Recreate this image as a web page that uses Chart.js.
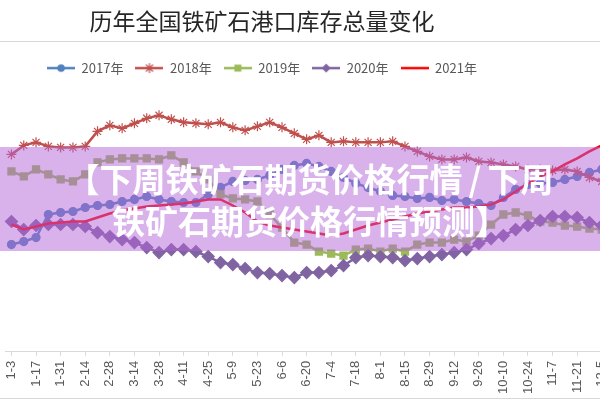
<!DOCTYPE html>
<html>
<head>
<meta charset="utf-8">
<script src="https://cdn.jsdelivr.net/npm/chart.js@4.4.0/dist/chart.umd.min.js"></script>
<style>
  html, body { margin: 0; padding: 0; background: #fff; }
  body { width: 600px; height: 400px; overflow: hidden; position: relative; }
  #wrap { position: absolute; left: -128px; top: 0; width: 780px; height: 400px; }
  #banner {
    position: absolute; left: 0; top: 147px; width: 600px; height: 104px;
    background: rgba(180, 100, 215, 0.5); box-sizing: border-box;
    padding: 10px 0 0 20px; text-align: center; color: #fff; white-space: nowrap;
    font: bold 33px/42px "Noto Sans CJK SC", sans-serif;
  }
  #banner .sl { margin: 0 6px; }
</style>
</head>
<body>
<div id="wrap"><canvas id="chart" width="780" height="400"></canvas></div>
<div id="banner">【下周铁矿石期货价格行情<span class="sl">/</span>下周<br>铁矿石期货价格行情预测】</div>
<script>
// weekly port inventory, 万吨
const weeks = ['1-3','1-10','1-17','1-24','1-31','2-7','2-14','2-21','2-28','3-7','3-14','3-21','3-28',
  '4-4','4-11','4-18','4-25','5-2','5-9','5-16','5-23','5-30','6-6','6-13','6-20','6-27','7-4','7-11',
  '7-18','7-25','8-1','8-8','8-15','8-22','8-29','9-5','9-12','9-19','9-26','10-3','10-10','10-17',
  '10-24','10-31','11-7','11-14','11-21','11-28','12-5','12-12','12-19','12-26'];

const inv2017 = [11210,11300,11420,12110,12170,12200,12320,12380,12410,12500,12560,12650,12560,
  12500,12470,12470,12710,12920,13100,13130,13160,13280,13460,13580,13640,13550,13400,13220,
  13040,12920,12800,12680,12650,12590,12620,12530,12560,12500,12440,12380,12620,12860,
  13010,13040,13070,13160,13250,13370,13460,13520,13550,13610];
const inv2018 = [13910,14180,14270,14150,14120,14120,14150,14600,14780,14690,14840,14990,15080,
  14960,14870,14840,14810,14870,14720,14630,14750,14870,14720,14540,14360,14480,14270,14300,
  14270,14270,14270,14300,14150,14000,13850,13760,13760,13820,13700,13670,13610,13550,
  13460,13460,13430,13460,13400,13220,13100,13010,12980,13040];
const inv2019 = [13400,13250,13460,13310,13160,13100,13310,13670,13760,13790,13790,13790,13760,
  13880,13670,13400,13160,12710,12590,12560,12500,12110,11720,11270,11210,11000,10940,10880,
  11060,11090,11000,11090,11000,11210,11270,11270,11360,11300,11480,11810,12110,12170,
  12080,11900,11870,11780,11750,11690,11660,11600,11570,11540];
const inv2020 = [11900,11660,11780,11810,11810,11810,11750,11570,11450,11360,11270,11120,10970,
  11060,11060,11000,10850,10670,10610,10490,10370,10340,10280,10220,10370,10370,10430,10580,
  10820,10880,10850,10820,10730,10790,10850,10910,10970,11060,11240,11390,11480,11660,
  11780,11930,12050,12050,12020,11870,11780,11750,11780,11810];
const inv2021 = [11810,11660,11750,11840,11870,11900,11900,12020,12140,12230,12290,12350,12380,
  12410,12440,12500,12560,12560,12380,12170,11900,11780,11720,11660,11600,11540,11480,11540,
  11660,11780,11870,11960,12050,12140,12200,12260,12320,12320,12350,12410,12560,12800,
  13040,13250,13400,13610,13790,14000,14180,14300,14360,14420];

const seriesNames = ['2017年', '2018年', '2019年', '2020年', '2021年'];
const seriesColors = ['#4F81BD', '#C0504D', '#9BBB59', '#8064A2', '#FF0000'];
const markers = ['circle', 'star', 'rect', 'rectRot', false];
const markerSizes = [4, 5, 5, 6, 0];

// small line+marker pictures for the legend, like the excel ones
function makeIcon(color, marker) {
  const c = document.createElement('canvas');
  c.width = 28; c.height = 12;
  const g = c.getContext('2d');
  g.strokeStyle = color; g.fillStyle = color;
  g.lineWidth = 2.5;
  g.beginPath(); g.moveTo(0, 6); g.lineTo(28, 6); g.stroke();
  g.lineWidth = 1.2;
  if (marker === 'circle') {
    g.beginPath(); g.arc(14, 6, 3.8, 0, Math.PI * 2); g.fill();
  } else if (marker === 'star') {
    g.beginPath();
    g.moveTo(9, 6); g.lineTo(19, 6);
    g.moveTo(14, 1); g.lineTo(14, 11);
    g.moveTo(10.5, 2.5); g.lineTo(17.5, 9.5);
    g.moveTo(17.5, 2.5); g.lineTo(10.5, 9.5);
    g.stroke();
  } else if (marker === 'rect') {
    g.fillRect(10.5, 2.5, 7, 7);
  } else if (marker === 'rectRot') {
    g.beginPath(); g.moveTo(14, 1.5); g.lineTo(18.5, 6); g.lineTo(14, 10.5); g.lineTo(9.5, 6); g.closePath(); g.fill();
  }
  return c;
}
const legendIcons = seriesColors.map((col, i) => makeIcon(col, markers[i]));

const frameLines = {
  id: 'frameLines',
  beforeDraw(chart) {
    const ctx = chart.ctx;
    ctx.save();
    ctx.fillStyle = '#fff';
    ctx.fillRect(0, 0, chart.width, chart.height);
    ctx.strokeStyle = '#d9d9d9';
    ctx.lineWidth = 1;
    ctx.beginPath();
    ctx.moveTo(0, 41.5); ctx.lineTo(chart.width, 41.5);
    ctx.moveTo(0, 398.5); ctx.lineTo(chart.width, 398.5);
    ctx.stroke();
    ctx.restore();
  }
};

const allData = [inv2017, inv2018, inv2019, inv2020, inv2021];
const datasets = allData.map((d, i) => ({
  label: seriesNames[i],
  data: d,
  borderColor: seriesColors[i],
  backgroundColor: seriesColors[i],
  borderWidth: 2.5,
  pointStyle: markers[i],
  pointRadius: markerSizes[i],
  pointBorderWidth: 1.2,
  pointBackgroundColor: seriesColors[i],
  pointBorderColor: seriesColors[i],
  tension: 0,
  order: 4 - i
}));

new Chart(document.getElementById('chart'), {
  type: 'line',
  data: { labels: weeks, datasets: datasets },
  options: {
    responsive: false,
    animation: false,
    devicePixelRatio: 1,
    layout: { padding: { top: 0, bottom: 1, left: 0, right: 0 } },
    plugins: {
      title: {
        display: true,
        text: '历年全国铁矿石港口库存总量变化',
        color: '#262626',
        font: { size: 23, weight: 'normal', family: '"Noto Sans CJK SC", sans-serif' },
        padding: { top: 7, bottom: 15 }
      },
      legend: {
        display: true,
        labels: {
          usePointStyle: true,
          pointStyleWidth: 28,
          padding: 12,
          color: '#595959',
          font: { size: 13, family: '"Noto Sans CJK SC", sans-serif' },
          sort: (a, b) => a.datasetIndex - b.datasetIndex,
          generateLabels: function (chart) {
            const items = Chart.defaults.plugins.legend.labels.generateLabels(chart);
            items.forEach(it => { it.pointStyle = legendIcons[it.datasetIndex]; });
            return items;
          }
        }
      },
      tooltip: { enabled: false }
    },
    scales: {
      x: {
        offset: true,
        grid: { display: true, drawOnChartArea: false, tickLength: 4, color: '#d9d9d9', offset: false },
        border: { color: '#d9d9d9' },
        afterBuildTicks: function (scale) {
          scale.ticks = scale.ticks.filter((t, i) => i % 2 === 0);
        },
        ticks: {
          autoSkip: false,
          minRotation: 90,
          maxRotation: 90,
          padding: 5,
          color: '#595959',
          font: { size: 13, family: '"Liberation Sans", sans-serif' }
        }
      },
      y: {
        min: 8000,
        max: 16000,
        ticks: { display: false },
        grid: { display: false },
        border: { display: false },
        afterFit: function (scale) { scale.width = 133.3; }
      }
    }
  },
  plugins: [frameLines]
});
</script>
</body>
</html>
